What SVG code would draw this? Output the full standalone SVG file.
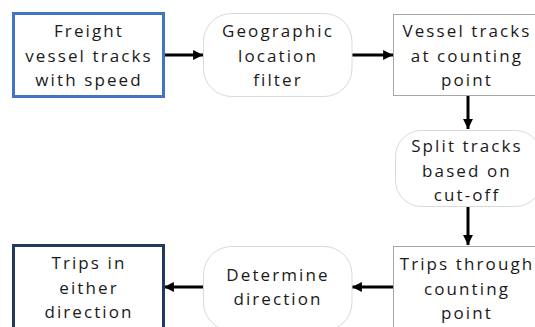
<svg xmlns="http://www.w3.org/2000/svg" width="535" height="327" viewBox="0 0 535 327">
  <defs>
    <marker id="arrow" viewBox="0 0 10 10" refX="10" refY="5" markerWidth="3.3" markerHeight="3.3" orient="auto" markerUnits="strokeWidth">
      <path d="M0,0 L10,5 L0,10 Z" fill="#000"/>
    </marker>
    <style>
      .lbl { font-family: "Open Sans", "DejaVu Sans", sans-serif; font-size: 17px; letter-spacing: 2.1px; fill: #1a1a1a; text-anchor: middle; }
      .src { fill: #fff; stroke: #4472C4; stroke-width: 3; }
      .out { fill: #fff; stroke: #1F3864; stroke-width: 3; }
      .data { fill: #fff; stroke: #a6a6a6; stroke-width: 1; }
      .proc { fill: #fff; stroke: #d9d9d9; stroke-width: 1; }
      .conn { stroke: #000; stroke-width: 3; fill: none; marker-end: url(#arrow); }
    </style>
  </defs>

  <g id="connectors">
    <line class="conn" x1="164" y1="55" x2="203" y2="55"/>
    <line class="conn" x1="352" y1="55" x2="393" y2="55"/>
    <line class="conn" x1="468" y1="95" x2="468" y2="129"/>
    <line class="conn" x1="468" y1="207" x2="468" y2="245"/>
    <line class="conn" x1="393" y1="287" x2="352" y2="287"/>
    <line class="conn" x1="204" y1="287" x2="164" y2="287"/>
  </g>

  <g id="freight-tracks">
    <rect class="src" x="13.5" y="13.5" width="150" height="83"/>
    <text class="lbl" x="89" y="37">Freight</text>
    <text class="lbl" x="89" y="61.5">vessel tracks</text>
    <text class="lbl" x="89" y="86">with speed</text>
  </g>

  <g id="location-filter">
    <rect class="proc" x="203.5" y="13.5" width="148.5" height="83" rx="28" ry="28"/>
    <text class="lbl" x="278" y="37">Geographic</text>
    <text class="lbl" x="278" y="61.5">location</text>
    <text class="lbl" x="278" y="86">filter</text>
  </g>

  <g id="tracks-at-point">
    <rect class="data" x="393.5" y="14.5" width="148" height="81"/>
    <text class="lbl" x="467" y="37">Vessel tracks</text>
    <text class="lbl" x="467" y="61.5">at counting</text>
    <text class="lbl" x="467" y="86">point</text>
  </g>

  <g id="split-tracks">
    <rect class="proc" x="395.5" y="130.5" width="146" height="76" rx="26" ry="26"/>
    <text class="lbl" x="467" y="152">Split tracks</text>
    <text class="lbl" x="467" y="176.5">based on</text>
    <text class="lbl" x="467" y="201">cut-off</text>
  </g>

  <g id="trips-through-point">
    <rect class="data" x="393.5" y="246.5" width="148" height="84"/>
    <text class="lbl" x="467" y="270">Trips through</text>
    <text class="lbl" x="467" y="294.5">counting</text>
    <text class="lbl" x="467" y="319">point</text>
  </g>

  <g id="determine-direction">
    <rect class="proc" x="203.5" y="246.5" width="148.5" height="84" rx="28" ry="28"/>
    <text class="lbl" x="278" y="281">Determine</text>
    <text class="lbl" x="278" y="305">direction</text>
  </g>

  <g id="trips-either-direction">
    <rect class="out" x="13.5" y="245.5" width="150" height="86"/>
    <text class="lbl" x="89" y="269">Trips in</text>
    <text class="lbl" x="89" y="293.5">either</text>
    <text class="lbl" x="89" y="318">direction</text>
  </g>
</svg>
